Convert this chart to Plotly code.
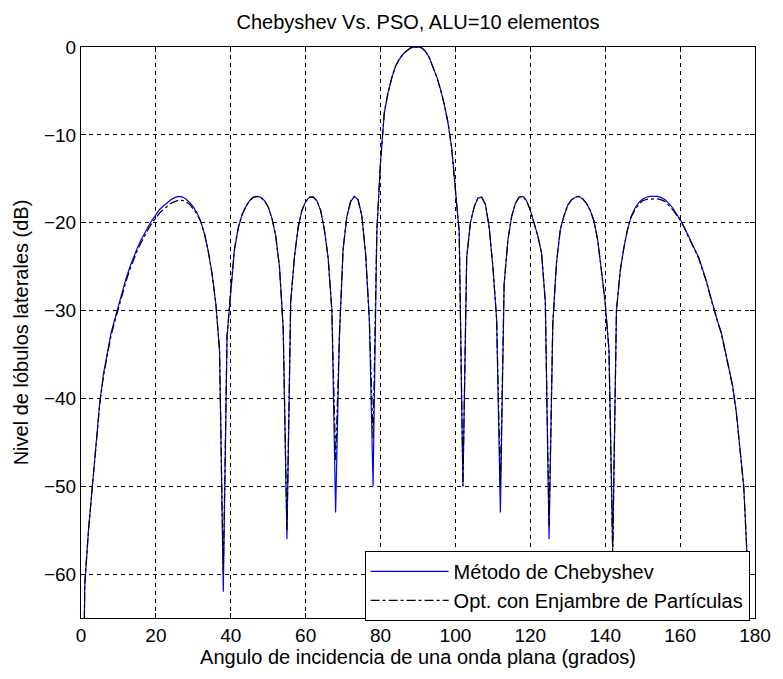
import plotly.graph_objects as go

# Angle of incidence (degrees), sampled every degree
angles = list(range(0, 181))

# Método de Chebyshev (dB)
cheb = [
    -100, -61.5, -55, -50, -45, -40.5, -37.2, -35, -32.6, -31,
    -29.4, -27.8, -26.4, -25.1, -23.9, -22.9, -22.0, -21.1, -20.4, -19.7,
    -19.1, -18.5, -18.1, -17.7, -17.4, -17.15, -17.0, -17.05, -17.3, -17.7,
    -18.2, -18.9, -19.9, -21.3, -23.3, -25.8, -29.2, -34.5, -62, -33,
    -27.5, -23, -20.6, -19.1, -18.2, -17.5, -17.1, -17.0, -17.1, -17.5,
    -18.2, -19.5, -21.5, -25, -32, -56, -29, -23.9, -20.5, -18.6,
    -17.6, -17.1, -17.05, -17.5, -18.6, -20.8, -24, -30, -53, -33,
    -23, -19.3, -17.6, -17.0, -17.4, -19.2, -23.5, -31, -50, -21,
    -13, -7.5, -5.2, -3.5, -2.2, -1.4, -0.8, -0.4, -0.1, -0.02,
    0, -0.1, -0.5, -1.2, -2.2, -3.4, -4.8, -6.5, -8.6, -11.5,
    -16.3, -21, -50, -24, -20, -18.2, -17.2, -17.1, -17.9, -20.5,
    -25, -31, -53, -27, -22, -19.3, -17.8, -17.1, -17.0, -17.5,
    -18.6, -20.1, -21.5, -23.5, -29, -56, -31.5, -24.5, -20.8, -19.2,
    -18.0, -17.4, -17.1, -17.0, -17.3, -17.8, -18.6, -19.8, -22, -25.5,
    -29.2, -34.5, -57, -30, -25.5, -22.8, -20.7, -19.2, -18.3, -17.7,
    -17.3, -17.1, -17.0, -17.0, -17.0, -17.15, -17.4, -17.8, -18.3, -19.0,
    -19.6, -20.4, -21.3, -22.2, -23.2, -24.0, -25.3, -26.6, -28.2, -29.8,
    -31.2, -32.5, -34.5, -36.3, -38.5, -41.5, -45.5, -50, -59, -75,
    -100,
]

# Opt. con Enjambre de Partículas (dB)
pso = [
    -100, -61, -55, -50.3, -45.2, -40.7, -37.5, -35.2, -32.9, -31.3,
    -29.7, -28.1, -26.7, -25.4, -24.2, -23.2, -22.3, -21.4, -20.7, -20.0,
    -19.4, -18.9, -18.5, -18.1, -17.8, -17.6, -17.45, -17.45, -17.6, -17.9,
    -18.4, -19.0, -19.9, -21.3, -23.3, -25.8, -29.2, -34.5, -60, -33,
    -27.5, -23, -20.6, -19.1, -18.2, -17.5, -17.1, -17.0, -17.1, -17.5,
    -18.2, -19.5, -21.5, -25, -32, -55, -29, -23.9, -20.5, -18.6,
    -17.6, -17.1, -17.05, -17.5, -18.6, -20.8, -24, -30, -47, -33,
    -23, -19.3, -17.6, -17.0, -17.4, -19.2, -23.5, -31, -44.5, -21,
    -13, -7.5, -5.2, -3.5, -2.2, -1.4, -0.8, -0.4, -0.1, -0.02,
    0, -0.1, -0.5, -1.2, -2.2, -3.4, -4.8, -6.5, -8.6, -11.5,
    -16.3, -21, -50, -24, -20, -18.2, -17.2, -17.1, -17.9, -20.5,
    -25, -31, -50, -27, -22, -19.3, -17.8, -17.1, -17.0, -17.5,
    -18.6, -20.1, -21.5, -23.5, -29, -54.5, -31.5, -24.5, -20.8, -19.2,
    -18.0, -17.4, -17.1, -17.0, -17.3, -17.8, -18.6, -19.8, -22, -25.5,
    -29.2, -34.5, -58, -30, -25.5, -22.8, -20.7, -19.3, -18.5, -17.9,
    -17.5, -17.35, -17.3, -17.3, -17.3, -17.4, -17.6, -18.0, -18.5, -19.1,
    -19.7, -20.5, -21.4, -22.3, -23.3, -24.1, -25.4, -26.7, -28.3, -29.9,
    -31.3, -32.6, -34.6, -36.4, -38.6, -41.6, -45.6, -50.2, -59, -75,
    -100,
]

x_ticks = [0, 20, 40, 60, 80, 100, 120, 140, 160, 180]
y_ticks = [0, -10, -20, -30, -40, -50, -60]

FONT = "Liberation Sans, Arial, Helvetica, sans-serif"
TXT = 20
TICK = 19

fig = go.Figure()
fig.add_trace(go.Scatter(
    x=angles, y=cheb, mode="lines", name="Método de Chebyshev",
    line=dict(color="#0000ff", width=1.2),
))
fig.add_trace(go.Scatter(
    x=angles, y=pso, mode="lines", name="Opt. con Enjambre de Partículas",
    line=dict(color="#000000", width=1.2, dash="dashdot"),
))

axis_common = dict(
    showline=True, linecolor="black", linewidth=1, mirror="ticks",
    ticks="inside", ticklen=5, tickcolor="black",
    showgrid=True, gridcolor="black", gridwidth=1, griddash="4px,4px",
    zeroline=False,
    tickfont=dict(family=FONT, size=TICK, color="black"),
)

fig.update_layout(
    width=783, height=679,
    margin=dict(l=81, r=22, t=47, b=61),
    paper_bgcolor="white", plot_bgcolor="white",
    title=dict(
        text="Chebyshev Vs. PSO, ALU=10 elementos",
        x=0.5, xref="paper", xanchor="center",
        y=1 - 22 / 679, yref="container", yanchor="middle",
        font=dict(family=FONT, size=TXT, color="black"),
    ),
    xaxis=dict(
        range=[0, 180], tickvals=x_ticks,
        title=dict(text="Angulo de incidencia de una onda plana (grados)",
                   font=dict(family=FONT, size=TXT, color="black"), standoff=5),
        **axis_common,
    ),
    yaxis=dict(
        range=[-65, 0], tickvals=y_ticks,
        title=dict(text="Nivel de lóbulos laterales (dB)",
                   font=dict(family=FONT, size=TXT, color="black"), standoff=9),
        **axis_common,
    ),
    legend=dict(
        x=0.992, y=-0.005, xanchor="right", yanchor="bottom",
        bgcolor="white", bordercolor="black", borderwidth=1,
        font=dict(family=FONT, size=TXT, color="black"),
        itemwidth=78, tracegroupgap=0,
    ),
    showlegend=True,
)

fig.write_html("out.html")
